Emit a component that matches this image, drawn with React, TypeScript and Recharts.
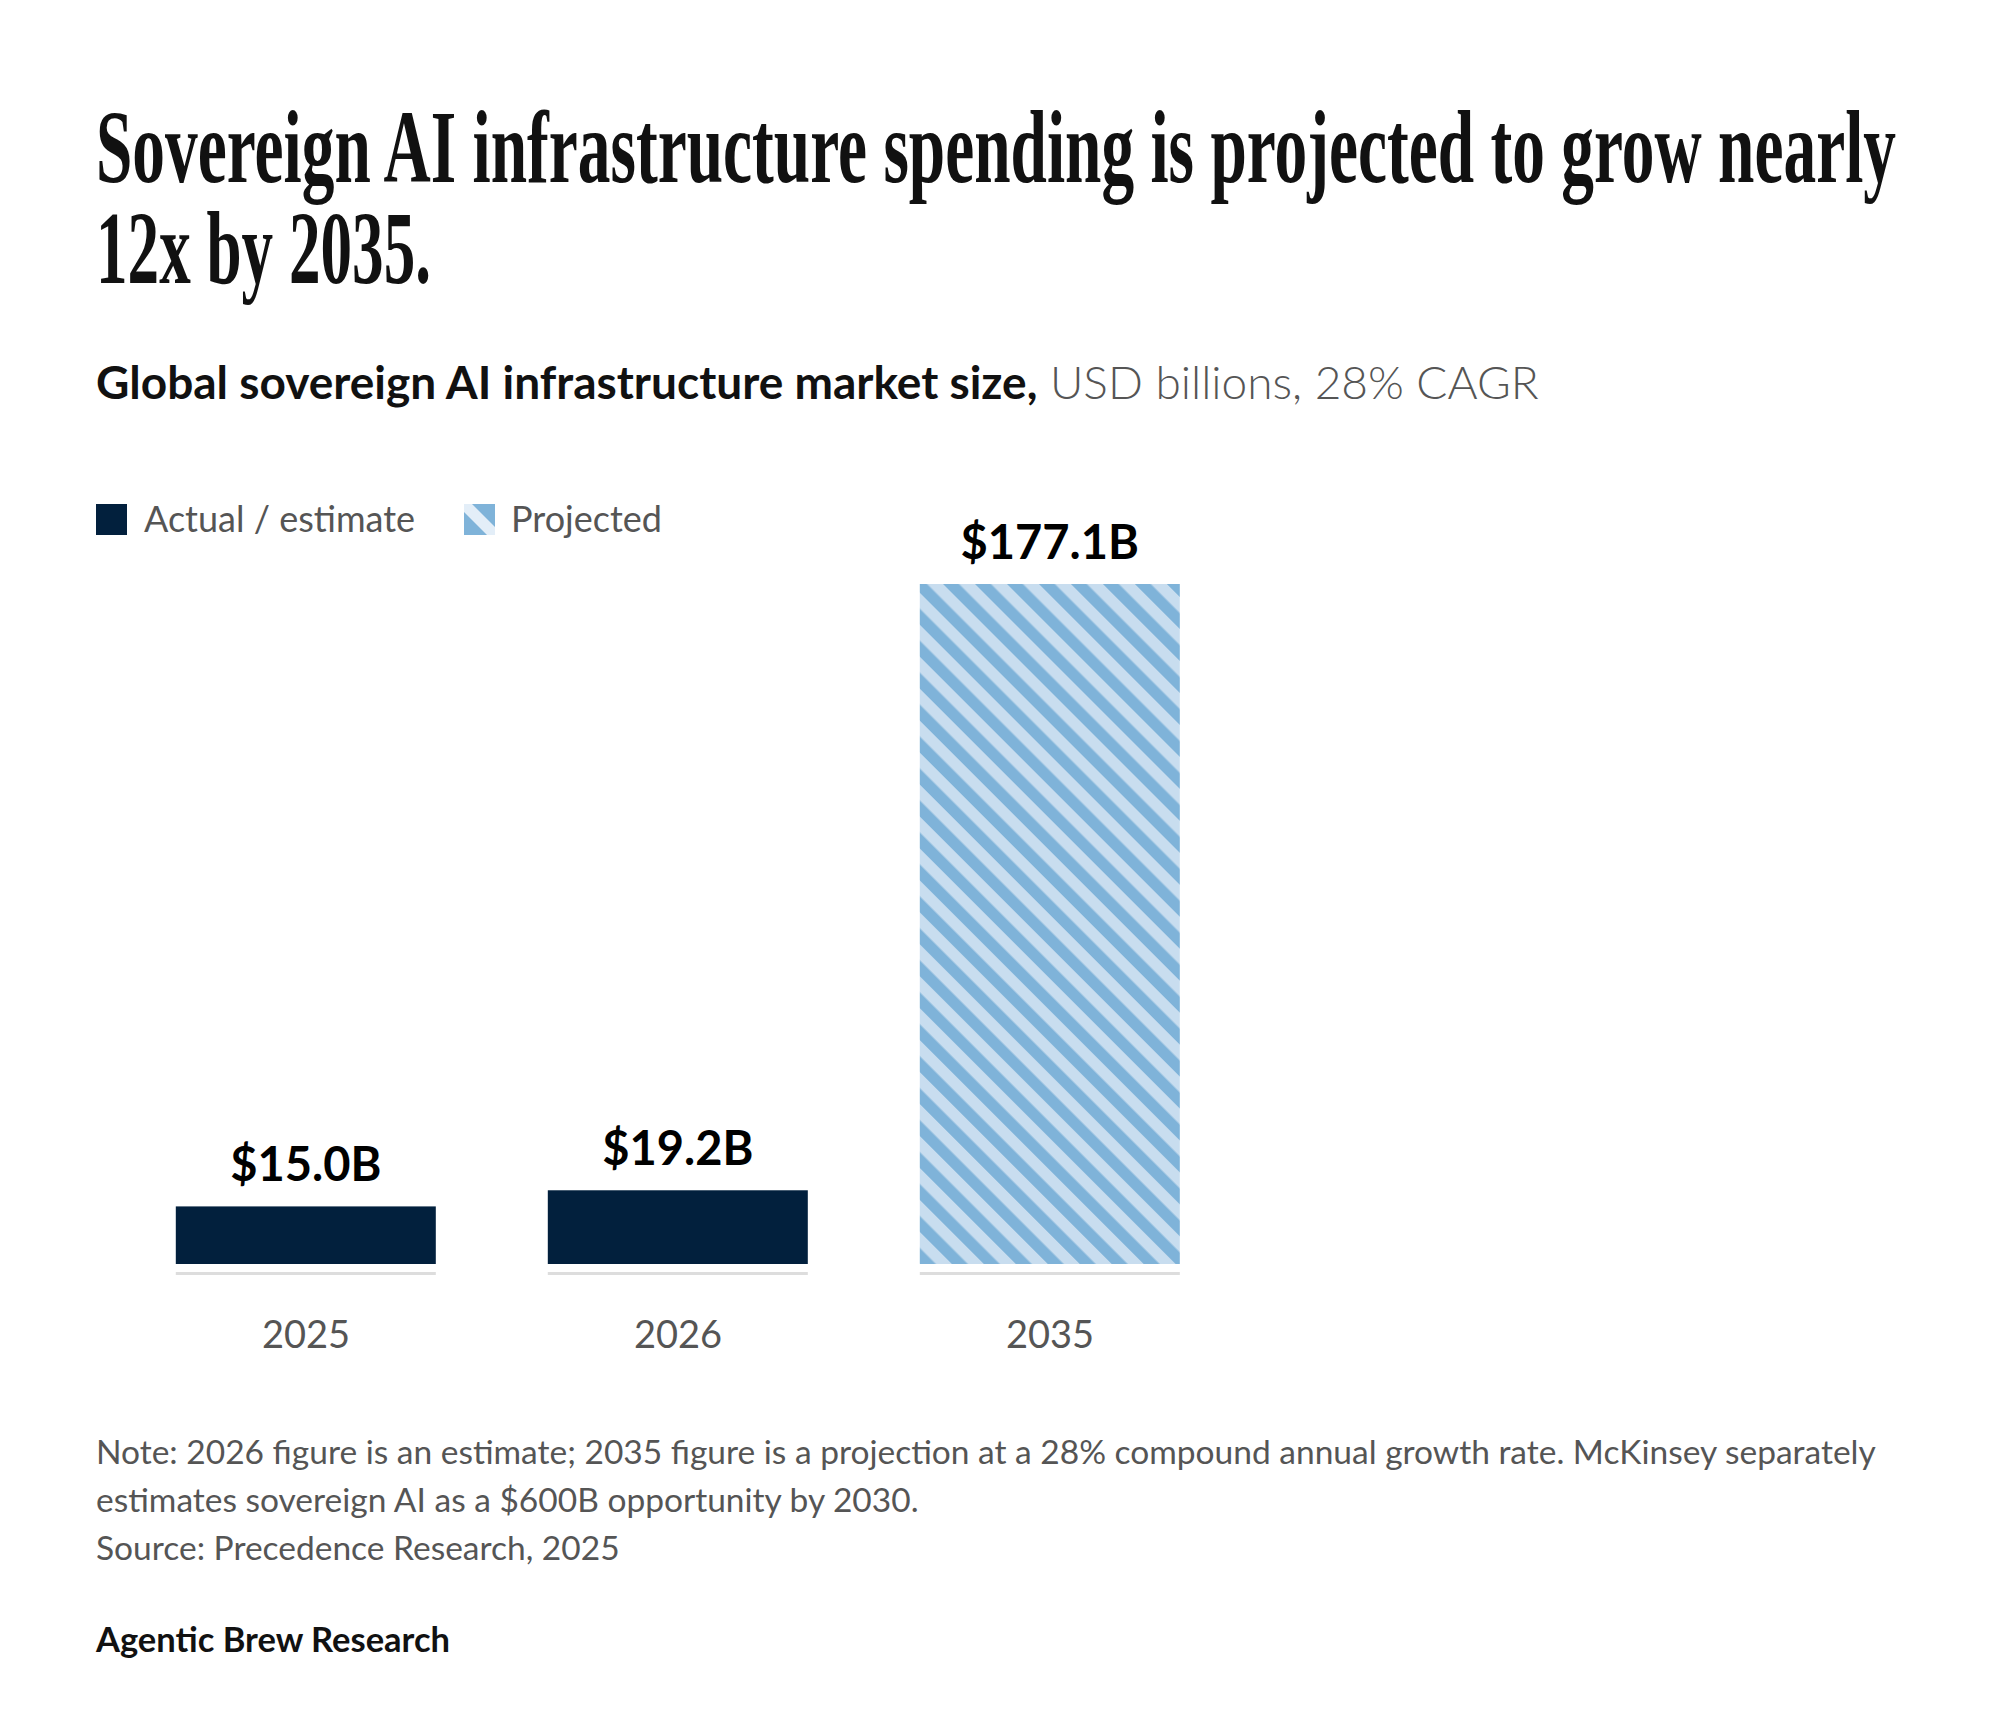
import { BarChart, Bar, XAxis, YAxis, LabelList } from "recharts";

const years = ["2025", "2026", "2035"];
const marketSize = [15.0, 19.2, 177.1];
const isProjected = [false, false, true];

const titleLines = [
  "Sovereign AI infrastructure spending is projected to grow nearly",
  "12x by 2035.",
];
const noteLines = [
  "Note: 2026 figure is an estimate; 2035 figure is a projection at a 28% compound annual growth rate. McKinsey separately",
  "estimates sovereign AI as a $600B opportunity by 2030.",
  "Source: Precedence Research, 2025",
];

const data = years.map((year, i) => ({
  year,
  value: marketSize[i],
  projected: isProjected[i],
}));

const NAVY = "#02203d";
const LIGHT = "#c8ddef";
const MID = "#7fb3d9";
const GREY_TXT = "#555555";
const SANS = "Lato, 'Open Sans', sans-serif";
const SERIF = "'Liberation Serif', serif";
const SQUEEZE = 0.625; // condensed headline look

// bar + the little grey rule under each bar
const BarShape = (props: any) => {
  const { x, y, width, height, payload } = props;
  return (
    <g>
      <rect x={x} y={y} width={width} height={height} fill={payload.projected ? "url(#hatch)" : NAVY} />
      <rect x={x} y={y + height + 8} width={width} height={3} fill="#dddddd" />
    </g>
  );
};

const App = () => {
  return (
    <div style={{ position: "absolute", left: 0, top: 0, width: 2000, height: 1732, background: "#fff" }}>
      <svg width={2000} height={1732} style={{ position: "absolute", left: 0, top: 0 }}>
        <text
          transform={`translate(96,182) scale(${SQUEEZE},1)`}
          fontFamily={SERIF}
          fontWeight={700}
          fontSize={104}
          fill="#111"
          textLength={1800 / SQUEEZE}
          lengthAdjust="spacingAndGlyphs"
        >
          {titleLines[0]}
        </text>
        <text
          transform={`translate(96,283) scale(${SQUEEZE},1)`}
          fontFamily={SERIF}
          fontWeight={700}
          fontSize={104}
          fill="#111"
          textLength={335 / SQUEEZE}
          lengthAdjust="spacingAndGlyphs"
        >
          {titleLines[1]}
        </text>
        <text x={96} y={399} fontFamily={SANS} fontSize={46}>
          <tspan fontWeight={700} fill="#111">Global sovereign AI infrastructure market size,</tspan>
          <tspan fontWeight={300} fill={GREY_TXT}> USD billions, 28% CAGR</tspan>
        </text>

        {/* legend */}
        <rect x={96} y={504} width={31} height={31} fill={NAVY} />
        <text x={144} y={532} fontFamily={SANS} fontSize={36} fill={GREY_TXT}>Actual / estimate</text>
        <rect x={464} y={504} width={31} height={31} fill={MID} />
        <polygon points="464,504 472,504 495,527 495,535 487,535 464,512" fill="#e3eef8" />
        <text x={511} y={532} fontFamily={SANS} fontSize={36} fill={GREY_TXT}>Projected</text>

        {noteLines.map((t, i) => (
          <text key={i} x={96} y={1464 + i * 48} fontFamily={SANS} fontSize={33.5} fill={GREY_TXT}>
            {t}
          </text>
        ))}
        <text x={96} y={1652} fontFamily={SANS} fontWeight={700} fontSize={34.5} fill="#111">
          Agentic Brew Research
        </text>
      </svg>

      <div style={{ position: "absolute", left: 0, top: 440 }}>
        <BarChart
          width={1300}
          height={940}
          data={data}
          margin={{ top: 144, right: 64, bottom: 36, left: 120 }}
          barCategoryGap="15%"
        >
          <defs>
            <pattern id="hatch" patternUnits="userSpaceOnUse" width={22.6} height={22.6} patternTransform="rotate(-45)">
              <rect width={22.6} height={22.6} fill={LIGHT} />
              <rect width={11.3} height={22.6} fill={MID} />
            </pattern>
          </defs>
          <XAxis
            dataKey="year"
            height={80}
            axisLine={false}
            tickLine={false}
            tickMargin={51}
            tick={{ fill: GREY_TXT, fontSize: 38, fontFamily: SANS }}
          />
          <YAxis hide domain={[0, "dataMax"]} />
          <Bar dataKey="value" shape={BarShape} isAnimationActive={false}>
            <LabelList
              dataKey="value"
              position="top"
              offset={25}
              formatter={(v: any) => `$${Number(v).toFixed(1)}B`}
              style={{ fill: "#000", fontSize: 47, fontWeight: 700, fontFamily: SANS }}
            />
          </Bar>
        </BarChart>
      </div>
    </div>
  );
};

export default App;
